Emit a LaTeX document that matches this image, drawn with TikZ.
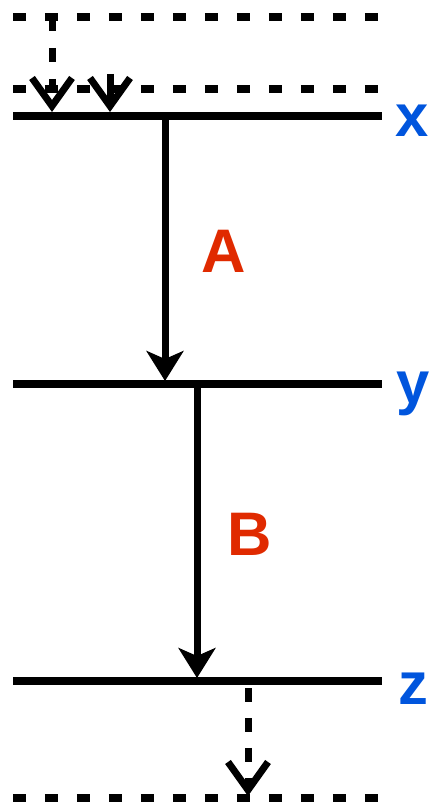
\documentclass[tikz,border=0pt]{standalone}
\usepackage{fontspec}
\setmainfont{Liberation Sans}
\usetikzlibrary{arrows.meta}
\definecolor{lvlblue}{HTML}{0055DD}
\definecolor{steplred}{HTML}{E02A00}

\begin{document}
\begin{tikzpicture}[x=0.02cm,y=-0.02cm,
  level/.style={line width=0.15cm},
  dashlevel/.style={line width=0.15cm,dash pattern=on 0.26cm off 0.38cm},
  flow/.style={line width=0.14cm,-{Stealth[length=0.6cm,width=0.74cm,inset=0.16cm]}},
  feed/.style={line width=0.14cm,-{Straight Barb[length=0.56cm,width=0.8cm]}},
  varlabel/.style={anchor=base,text=lvlblue,font=\fontsize{34pt}{34pt}\selectfont\bfseries},
  steplabel/.style={anchor=base,text=steplred,font=\fontsize{35pt}{35pt}\selectfont\bfseries}]

\useasboundingbox (0,0) rectangle (432,804);

% y coordinates of the levels
\def\ytop{17}
\def\yin{89}
\def\yx{116}
\def\yy{384}
\def\yz{681}
\def\ybot{798}

% level lines
\draw[dashlevel] (13,\ytop) -- (381,\ytop);
\draw[dashlevel] (13,\yin) -- (381,\yin);
\draw[level] (13,\yx) -- (382,\yx);
\draw[level] (13,\yy) -- (382,\yy);
\draw[level] (13,\yz) -- (382,\yz);
\draw[dashlevel] (13,\ybot) -- (381,\ybot);

% level labels
\node[varlabel] (lx) at (412,137) {x};
\node[varlabel] (ly) at (413,403) {y};
\node[varlabel] (lz) at (413,704) {z};

% arrow end points
\coordinate (inA) at (52,\ytop);
\coordinate (tipA) at (52,112);
\coordinate (inB) at (110,74);
\coordinate (tipB) at (110,112);
\coordinate (xs) at (165,\yx);
\coordinate (xe) at (165,381);
\coordinate (ys) at (197,\yy);
\coordinate (ye) at (197,678);
\coordinate (zs) at (248,688);
\coordinate (ze) at (248,796);

% incoming arrows
\draw[feed,dash pattern=on 0.28cm off 0.34cm] (inA) -- (tipA);
\draw[feed] (inB) -- (tipB);

% steps between levels
\draw[flow] (xs) -- (xe);
\draw[flow] (ys) -- (ye);
\node[steplabel] (lA) at (223.5,272) {A};
\node[steplabel] (lB) at (250,555) {B};

% outgoing arrow
\draw[feed,dash pattern=on 0.28cm off 0.32cm] (zs) -- (ze);

\end{tikzpicture}
\end{document}
